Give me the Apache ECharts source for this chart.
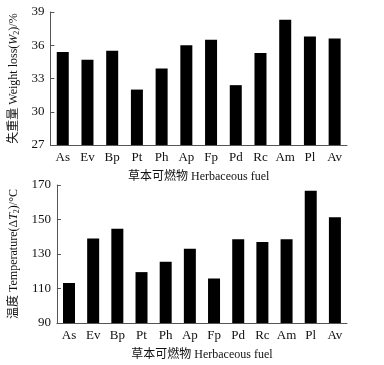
<!DOCTYPE html>
<html>
<head>
<meta charset="utf-8">
<title></title>
<script src="https://cdn.jsdelivr.net/npm/echarts@6/dist/echarts.min.js"></script>
<style>
	html, body { margin: 0; padding: 0; background: #fff; }
	#main { width: 384px; height: 365px; }
</style>
</head>
<body>
<div id="main"></div>
<script>
	// 草本可燃物
	var fuels = ['As', 'Ev', 'Bp', 'Pt', 'Ph', 'Ap', 'Fp', 'Pd', 'Rc', 'Am', 'Pl', 'Av'];
	// 失重量 W2 (%)
	var weightLoss = [35.4, 34.7, 35.5, 32.0, 33.9, 36.0, 36.5, 32.4, 35.3, 38.3, 36.8, 36.6];
	// 温度 ΔT2 (°C)
	var tempRise = [113.2, 139.0, 144.6, 119.5, 125.5, 133.0, 115.8, 138.5, 137.0, 138.5, 166.6, 151.3];
	var wTicks = [27, 30, 33, 36, 39];
	var tTicks = [90, 110, 130, 150, 170];

	var fontF = "'Liberation Serif', 'Noto Sans CJK SC', serif";
	var axisCol = '#555';
	var txtCol = '#111';

	var richName = {
		i: { fontFamily: fontF, fontSize: 12, fontStyle: 'italic', color: txtCol },
		s: { fontFamily: fontF, fontSize: 8, color: txtCol, verticalAlign: 'bottom', padding: [5, 0, 0, 0] }
	};

	function xAx(idx) {
		return {
			type: 'category',
			gridIndex: idx,
			data: fuels,
			name: '草本可燃物 Herbaceous fuel',
			nameLocation: 'middle',
			nameGap: 26,
			nameTextStyle: { fontFamily: fontF, fontSize: 12, color: txtCol },
			axisLine: { lineStyle: { color: axisCol, width: 1 } },
			axisTick: { inside: true, length: 3, interval: 0, lineStyle: { color: axisCol } },
			axisLabel: { fontFamily: fontF, fontSize: 13, color: txtCol, margin: 6, interval: 0 }
		};
	}

	function yAx(idx, min, max, ticks, name) {
		return {
			type: 'value',
			gridIndex: idx,
			min: min,
			max: max,
			name: name,
			nameLocation: 'middle',
			nameRotate: 90,
			nameGap: 28,
			nameTextStyle: { fontFamily: fontF, fontSize: 12, color: txtCol, rich: richName },
			splitLine: { show: false },
			axisLine: { show: true, lineStyle: { color: axisCol, width: 1 } },
			axisTick: { show: true, inside: true, length: 4, customValues: ticks, lineStyle: { color: axisCol } },
			axisLabel: { fontFamily: fontF, fontSize: 13, color: txtCol, margin: 6, customValues: ticks }
		};
	}

	var myChart = echarts.init(document.getElementById('main'));
	var option = {
		backgroundColor: '#fff',
		animation: false,
		grid: [
			{ left: 47, right: 37, top: 12, height: 133 },
			{ left: 47, right: 37, top: 185, height: 138 }
		],
		xAxis: [xAx(0), xAx(1)],
		yAxis: [
			yAx(0, 27, 39, wTicks, '失重量 Weight loss({i|W}{s|2})/%'),
			yAx(1, 90, 170, tTicks, '温度 Temperature(Δ{i|T}{s|2})/°C')
		],
		series: [
			{
				type: 'bar',
				xAxisIndex: 0,
				yAxisIndex: 0,
				data: weightLoss,
				barWidth: 12,
				itemStyle: { color: '#000' }
			},
			{
				type: 'bar',
				xAxisIndex: 1,
				yAxisIndex: 1,
				data: tempRise,
				barWidth: 12,
				itemStyle: { color: '#000' }
			}
		]
	};
	myChart.setOption(option);
</script>
</body>
</html>
